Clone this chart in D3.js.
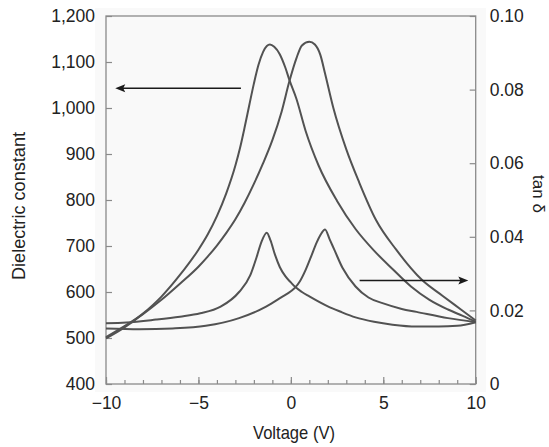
<!DOCTYPE html>
<html><head><meta charset="utf-8">
<script src="https://cdn.jsdelivr.net/npm/d3@7"></script>
<style>
html,body{margin:0;padding:0;background:#fff;}
svg{display:block;font-family:"Liberation Sans",Arial,Helvetica,sans-serif;}
</style></head>
<body><svg id="c" width="549" height="447"></svg>
<script>
// ---- data ----
const epsAV = [-10,-9,-8,-7,-6,-5,-4.5,-4,-3.5,-3,-2.75,-2.5,-2.25,-2,-1.75,-1.5,-1.3,-1.13,-0.9,-0.6,-0.3,-0.08,0.3,0.8,1.5,2.5,3.5,4.5,5.5,6.5,7.5,8.5,9.3,10];
const epsA  = [499,523,553,590,637,692,725,765,814,875,913,958,1006,1053,1094,1122,1135,1138,1133,1117,1088,1061,1020,950,875,798,737,690,650,612,583,562,548,535];
const epsBV = [-10,-9,-8,-7,-6,-5,-4.5,-4,-3.5,-3,-2.5,-2,-1.5,-1,-0.5,-0.08,0.3,0.6,1.0,1.3,1.6,1.85,2.3,3.0,3.7,4.6,5.7,7.1,8.2,9.2,10];
const epsB  = [502,526,552,583,618,655,677,701,728,758,794,835,880,930,992,1058,1108,1136,1144,1138,1115,1075,1000,910,838,757,692,626,592,562,538];
const tanCV = [-10,-8.9,-7.3,-6,-4.9,-3.8,-2.8,-2.2,-1.85,-1.6,-1.3,-1.1,-0.85,-0.6,-0.3,0,0.23,0.6,1.0,2.0,2.66,3.5,4.5,5.5,6.8,8.0,9.0,10];
const tanC  = [0.0165,0.0167,0.0175,0.0183,0.0192,0.0210,0.0250,0.0295,0.0345,0.0385,0.0411,0.0390,0.0350,0.0318,0.0293,0.0276,0.0264,0.0250,0.0238,0.0211,0.0197,0.0181,0.0169,0.0161,0.0156,0.0156,0.0158,0.0168];
const tanDV = [-10,-8.2,-6.4,-4.6,-2.8,-1.34,-0.5,0,0.23,0.5,0.8,1.1,1.4,1.6,1.85,2.1,2.35,2.8,3.5,4.2,5.0,6.0,6.8,8.5,10];
const tanD  = [0.0151,0.0149,0.0151,0.0158,0.0179,0.0210,0.0236,0.0252,0.0262,0.0280,0.0310,0.0347,0.0385,0.0405,0.0420,0.0393,0.0365,0.0315,0.0265,0.0235,0.0219,0.0204,0.0196,0.0179,0.0168];
const xTicks = [-10,-5,0,5,10];
const xMinor = d3.range(-10,10.001,1);
const epsTicks = [400,500,600,700,800,900,1000,1100,1200];
const tanTicks = [0,0.02,0.04,0.06,0.08,0.10];
// arrows: [x0, x1, y] in data units
const arrowEps = [-2.7,-9.5,1043];
const arrowTan = [3.72,9.6,0.0281];

// ---- layout ----
const L=106,R=475.7,T=16,B=384;
const svg=d3.select("#c");
const x=d3.scaleLinear().domain([-10,10]).range([L,R]);
const yE=d3.scaleLinear().domain([400,1200]).range([B,T]);
const yT=d3.scaleLinear().domain([0,0.10]).range([B,T]);

svg.append("rect").attr("x",95).attr("y",8).attr("width",391).attr("height",384).attr("fill","#f9f9f9");

const axisCol="#8a8a8a";
const gl=svg.append("g").attr("transform",`translate(${L},0)`)
  .call(d3.axisLeft(yE).tickValues(epsTicks).tickSize(-6).tickPadding(11).tickFormat(d3.format(",")));
const gr=svg.append("g").attr("transform",`translate(${R},0)`)
  .call(d3.axisRight(yT).tickValues(tanTicks).tickSize(-6).tickPadding(14).tickFormat(d=>d===0?"0":d3.format(".2f")(d)));
svg.append("g").attr("transform",`translate(0,${B})`)
  .call(d3.axisBottom(x).tickValues(xMinor).tickSize(-4).tickFormat(""))
  .call(g=>g.select(".domain").remove());
const gb=svg.append("g").attr("transform",`translate(0,${B})`)
  .call(d3.axisBottom(x).tickValues(xTicks).tickSize(-7).tickPadding(13).tickFormat(d3.format("")));
[gl,gr,gb].forEach(g=>g.select(".domain").remove());
svg.selectAll(".tick line").attr("stroke",axisCol).attr("stroke-width",1.2);
svg.selectAll(".tick text").attr("font-size",17.5).attr("fill","#222").attr("font-family","'Liberation Sans',Arial,sans-serif");

svg.append("rect").attr("x",L).attr("y",T).attr("width",R-L).attr("height",B-T)
  .attr("fill","none").attr("stroke",axisCol).attr("stroke-width",1.3);

// curves
const lineE=d3.line().x(d=>x(d[0])).y(d=>yE(d[1])).curve(d3.curveMonotoneX);
const lineT=d3.line().x(d=>x(d[0])).y(d=>yT(d[1])).curve(d3.curveMonotoneX);
const zip=(a,b)=>a.map((v,i)=>[v,b[i]]);
const curveStyle=p=>p.attr("fill","none").attr("stroke","#525252").attr("stroke-width",2).attr("stroke-linejoin","round");
svg.append("path").datum(zip(epsAV,epsA)).attr("d",lineE).call(curveStyle);
svg.append("path").datum(zip(epsBV,epsB)).attr("d",lineE).call(curveStyle);
svg.append("path").datum(zip(tanCV,tanC)).attr("d",lineT).call(curveStyle);
svg.append("path").datum(zip(tanDV,tanD)).attr("d",lineT).call(curveStyle);

// arrows
function arrow(x0,x1,y){
  const dir=Math.sign(x1-x0);
  svg.append("line").attr("x1",x0).attr("x2",x1-dir*6).attr("y1",y).attr("y2",y)
    .attr("stroke","#1a1a1a").attr("stroke-width",1.5);
  svg.append("path").attr("d",`M${x1},${y} L${x1-dir*10},${y-4} L${x1-dir*8},${y} L${x1-dir*10},${y+4} Z`)
    .attr("fill","#1a1a1a");
}
arrow(x(arrowEps[0]),x(arrowEps[1]),yE(arrowEps[2]));
arrow(x(arrowTan[0]),x(arrowTan[1]),yT(arrowTan[2]));

// titles
svg.append("text").attr("transform","translate(25,206) rotate(-90)").attr("text-anchor","middle")
  .attr("font-size",18).attr("fill","#222").attr("textLength",148).attr("lengthAdjust","spacingAndGlyphs")
  .text("Dielectric constant");
svg.append("text").attr("x",294).attr("y",439).attr("text-anchor","middle")
  .attr("font-size",18.5).attr("fill","#222").attr("textLength",82).attr("lengthAdjust","spacingAndGlyphs")
  .text("Voltage (V)");
svg.append("text").attr("transform","translate(533,194) rotate(90)").attr("text-anchor","middle")
  .attr("font-size",17).attr("fill","#222").text("tan δ");
</script></body></html>
